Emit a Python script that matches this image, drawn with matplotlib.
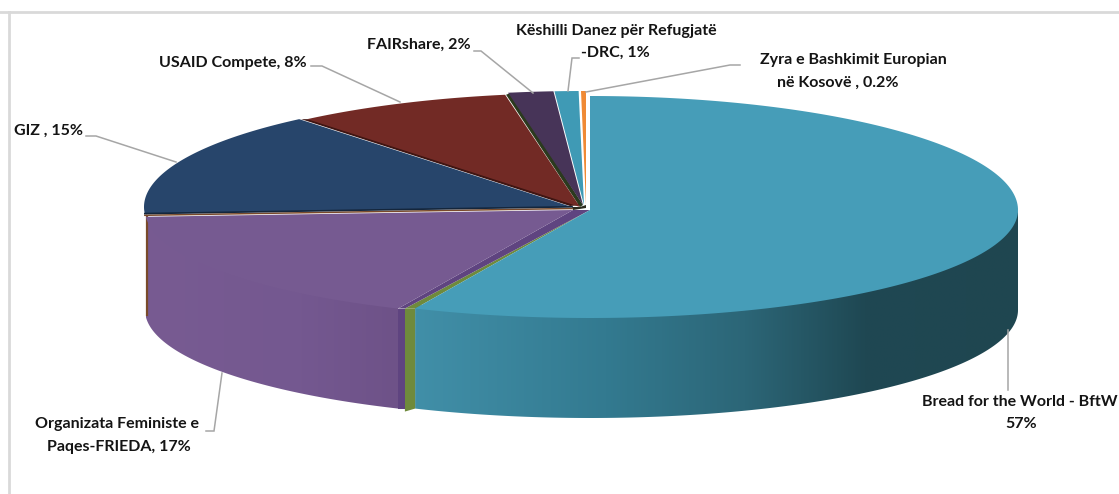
import numpy as np
import matplotlib
matplotlib.use("Agg")
import matplotlib.pyplot as plt
from matplotlib.colors import LinearSegmentedColormap, to_rgb
from matplotlib.patches import Polygon

# ---- data ----
names = ["Bread for the World - BftW", "Organizata Feministe e Paqes-FRIEDA", "GIZ",
         "USAID Compete", "FAIRshare", "Këshilli Danez për Refugjatë -DRC",
         "Zyra e Bashkimit Europian në Kosovë"]
shares = [56.7, 17.3, 15.0, 8.2, 1.7, 0.9, 0.2]
top_colors = ["#469db8", "#765a91", "#27456b", "#722a25", "#473458", "#3f9ab5", "#f08a35"]

label_lines = [
    ("Bread for the World - BftW", 1020, 402), ("57%", 1021, 424),
    ("Organizata Feministe e", 117, 424), ("Paqes-FRIEDA, 17%", 119, 447),
    ("GIZ , 15%", 48, 131),
    ("USAID Compete, 8%", 233, 63),
    ("FAIRshare, 2%", 419, 45),
    ("Këshilli Danez për Refugjatë", 616, 31), ("-DRC, 1%", 615, 53),
    ("Zyra e Bashkimit Europian", 853, 60), ("në Kosovë , 0.2%", 838, 83),
]
leaders = [
    [(1008, 330), (1008, 390)],
    [(206, 431), (214, 431), (222, 373)],
    [(86, 136), (96, 136), (176, 162)],
    [(311, 66), (322, 66), (400, 102)],
    [(474, 51), (481, 51), (533, 93)],
    [(579, 58), (572, 58), (568, 91)],
    [(740, 65), (730, 65), (586, 92)],
]

# ---- layout ----
RX, RY_BACK, RY_FRONT, DEPTH = 428, 114, 108, 100
centers = [(590, 210), (573, 210), (572, 207), (580, 207), (583, 205), (584, 205), (586, 205)]
LEADER = "#a6a6a6"
FRAME = "#d9d9d9"
plt.rcParams["font.family"] = ["Lato", "DejaVu Sans"]

fig = plt.figure(figsize=(11.19, 4.94), dpi=100, facecolor="white")
ax = fig.add_axes([0, 0, 1, 1])
ax.axis("off")

total = sum(shares)
edges = np.concatenate([[0], np.cumsum(shares)]) / total * 2 * np.pi


def pt(c, t):
    ry = np.where(np.cos(t) > 0, RY_BACK, RY_FRONT)
    return np.column_stack([c[0] + RX * np.sin(t), c[1] - ry * np.cos(t)])


def at(c, t):
    return pt(c, np.array([t]))[0]


def arc(c, a0, a1):
    return pt(c, np.linspace(a0, a1, 200))


def rim(c, a0, a1):
    a = arc(c, a0, a1)
    return np.vstack([a - [0, 4], (a + [0, DEPTH])[::-1]])


def gradient_fill(poly_pts, stops, z):
    xs = poly_pts[:, 0]
    x0, x1 = xs.min(), xs.max()
    sx = [s[0] for s in stops]
    pos = [(x - sx[0]) / (sx[-1] - sx[0]) for x in sx]
    cmap = LinearSegmentedColormap.from_list("g", [(p, to_rgb(s[1])) for p, s in zip(pos, stops)])
    grad = np.linspace(0, 1, 512)[None, :]
    im = ax.imshow(grad, cmap=cmap, aspect="auto", zorder=z, interpolation="bilinear",
                   extent=(x0, x1, poly_pts[:, 1].max(), poly_pts[:, 1].min()))
    clip = Polygon(poly_pts, closed=True, transform=ax.transData, fc="none", ec="none")
    ax.add_patch(clip)
    im.set_clip_path(clip)


# Frame fragments
ax.plot([0, 1119], [12, 12], color=FRAME, lw=2, zorder=0)
ax.plot([9, 9], [12, 493], color=FRAME, lw=2, zorder=0)

# Side faces
blue_rim = rim(centers[0], np.pi / 2, edges[1])
blue_x0 = blue_rim[:, 0].min()
gradient_fill(blue_rim,
              [(blue_x0, "#418fa8"), (blue_x0 + 190, "#337a90"), (blue_x0 + 330, "#2c6677"),
               (blue_x0 + 450, "#1f4853"), (1018, "#1f4650")], 1)

purple_rim = rim(centers[1], edges[1], edges[2])
gradient_fill(purple_rim, [(143, "#785b92"), (300, "#745890"), (398, "#6e5288")], 2)

# Walls exposed where Bread for the World meets FRIEDA
P = at(centers[1], edges[1])
B = at(centers[0], edges[1])
M = P + (B - P) * 0.4
d = np.array([0, DEPTH])
ax.fill(*zip(M, B, B + d, M + d + [0, 3]), color="#6f8a3c", lw=0, zorder=3)
ax.fill(*zip(P, M, M + d, P + d), color="#5f4480", lw=0, zorder=3)
ax.fill(*zip(M, B, centers[0]), color="#6f8a3c", lw=0, zorder=3)
ax.fill(*zip(P, M, centers[0], centers[1]), color="#5f4480", lw=0, zorder=3)

# Brown sliver at left end of FRIEDA side
L = at(centers[1], edges[2])
ax.plot([L[0] + 1, L[0] + 1], [L[1], L[1] + DEPTH - 2], color="#7a4a2a", lw=1.6, zorder=4)

# Dark inner faces visible between the exploded slices
Ge = at(centers[2], edges[3])
Us = at(centers[3], edges[3])
ax.fill(*zip(Ge + [2, 0], Us + [4, 0], (centers[3][0] + 2, centers[3][1] - 2),
             (centers[2][0] - 2, centers[2][1] - 1)),
        color="#3f1512", lw=0, zorder=4)
Ue = at(centers[3], edges[4])
Fs = at(centers[4], edges[4])
ax.fill(*zip(Ue + [1, 0], Fs + [3, 0], centers[4], centers[3]), color="#2b3a1e", lw=0, zorder=4)
ax.fill(*zip(centers[2], centers[3], centers[6], (centers[6][0], centers[0][1] - 2), centers[1]),
        color="#2b2a1e", lw=0, zorder=4)

# Top faces
for i, (c, col) in enumerate(zip(centers, top_colors)):
    a = arc(c, edges[i], edges[i + 1])
    ax.fill(*np.vstack([a, [c]]).T, color=col, lw=0, zorder=5)

# Thin edges between GIZ and FRIEDA
Gl = at(centers[2], edges[2])
ax.plot([Gl[0], centers[2][0]], [Gl[1] + 1.5, centers[2][1] + 1.5], color="#7a4a2a", lw=1.1, zorder=6)
ax.plot([Gl[0], centers[2][0]], [Gl[1] - 0.2, centers[2][1] - 0.2], color="#14263c", lw=1.2, zorder=6)

# Leader lines
for pts in leaders:
    ax.plot(*zip(*pts), color=LEADER, lw=1.1, zorder=7, solid_joinstyle="miter")

# Labels
for txt, x, y in label_lines:
    ax.text(x, y, txt, ha="center", va="center", fontsize=11.5, fontweight="bold",
            color="#141414", zorder=8)

ax.set_xlim(0, 1119)
ax.set_ylim(494, 0)
fig.savefig("out.png", dpi=100, facecolor="white")
